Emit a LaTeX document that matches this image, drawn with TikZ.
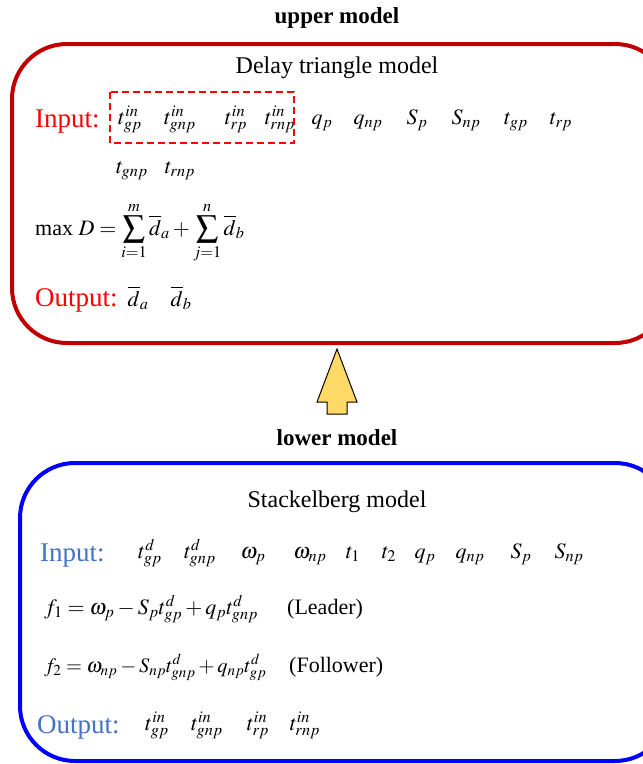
\documentclass[tikz,border=0pt]{standalone}
\usepackage{mathptmx}
\usepackage{fontspec}
\setmainfont{Liberation Serif}
\begin{document}
\begin{tikzpicture}[x=1pt,y=-1pt,
  box/.style={line width=4pt,rounded corners=55pt},
  lbl/.style={inner sep=0pt,anchor=base west},
  inlbl/.style={lbl,font=\fontsize{27}{30}\selectfont},
  eqn/.style={lbl,font=\fontsize{22}{26}\selectfont},
  mth/.style={inner sep=0pt,anchor=base,font=\fontsize{22}{26}\selectfont},
  ttl/.style={inner sep=0pt,font=\fontsize{24}{28}\selectfont},
  hdr/.style={inner sep=0pt,font=\bfseries\fontsize{23}{26}\selectfont}]
\useasboundingbox (0,0) rectangle (643,764);
\clip (0,0) rectangle (643,764);
\definecolor{upred}{HTML}{C00000}
\definecolor{lowblue}{HTML}{0000FF}
\definecolor{inblue}{HTML}{4472C4}
\definecolor{arrowfill}{HTML}{FFD966}
% upper
\node[hdr] (uh) at (337,18) {upper model};
\draw[box,upred] (12,44) rectangle (670,343);
\node[ttl] (ut) at (337,68) {Delay triangle model};
\node[inlbl,text=red] (uin) at (35,127) {Input:};
\node[mth] (a1) at (130,124) {$t_{gp}^{in}$};
\node[mth] (a2) at (180,124) {$t_{gnp}^{in}$};
\node[mth] (a3) at (236,124) {$t_{rp}^{in}$};
\node[mth] (a4) at (280,124) {$t_{rnp}^{in}$};
\node[mth] (a5) at (322,124) {$q_{p}$};
\node[mth] (a6) at (368,124) {$q_{np}$};
\node[mth] (a7) at (417,124) {$S_{p}$};
\node[mth] (a8) at (466,124) {$S_{np}$};
\node[mth] (a9) at (516,124) {$t_{gp}$};
\node[mth] (a10) at (561,124) {$t_{rp}$};
\draw[red,line width=1.5pt,dash pattern=on 7pt off 4pt] (110,92) rectangle (294,143);
\node[mth] (b1) at (132,173) {$t_{gnp}$};
\node[mth] (b2) at (180,173) {$t_{rnp}$};
\node[eqn] (eq) at (35,235) {max $D=\displaystyle\sum_{i=1}^{m}\overline{d}_a+\sum_{j=1}^{n}\overline{d}_b$};
\node[inlbl,text=red] (uout) at (35,306) {Output:};
\node[mth] (c1) at (138,306) {$\overline{d}_{a}$};
\node[mth] (c2) at (181,306) {$\overline{d}_{b}$};
% arrow
\draw[fill=arrowfill,line width=1pt,line join=miter] (327,414) -- (327,402) -- (317,402) -- (337,349) -- (357,402) -- (347,402) -- (347,414) -- cycle;
\coordinate (arrbot) at (337,414);
% lower
\node[hdr] (lh) at (337,438) {lower model};
\draw[box,lowblue] (20,463) rectangle (670,761);
\node[ttl] (lt) at (337,502) {Stackelberg model};
\node[inlbl,text=inblue] (lin) at (40,561) {Input:};
\node[mth] (d1) at (150,558) {$t_{gp}^{d}$};
\node[mth] (d2) at (200,558) {$t_{gnp}^{d}$};
\node[mth] (d3) at (253,558) {$\omega_{p}$};
\node[mth] (d4) at (310,558) {$\omega_{np}$};
\node[mth] (d5) at (353,558) {$t_{1}$};
\node[mth] (d6) at (389,558) {$t_{2}$};
\node[mth] (d7) at (425,558) {$q_{p}$};
\node[mth] (d8) at (470,558) {$q_{np}$};
\node[mth] (d9) at (521,558) {$S_{p}$};
\node[mth] (d10) at (569,558) {$S_{np}$};
\node[eqn] (f1) at (44,614) {$f_1=\omega_p-S_pt_{gp}^{d}+q_pt_{gnp}^{d}$};
\node[eqn] (l1) at (287,614) {(Leader)};
\node[eqn,font=\fontsize{20.5}{24}\selectfont] (f2) at (44,672) {$f_2=\omega_{np}-S_{np}t_{gnp}^{d}+q_{np}t_{gp}^{d}$};
\node[eqn] (l2) at (289,672) {(Follower)};
\node[inlbl,text=inblue] (lout) at (37,733) {Output:};
\node[mth] (e1) at (157,730) {$t_{gp}^{in}$};
\node[mth] (e2) at (207,730) {$t_{gnp}^{in}$};
\node[mth] (e3) at (258,730) {$t_{rp}^{in}$};
\node[mth] (e4) at (305,730) {$t_{rnp}^{in}$};
\end{tikzpicture}
\end{document}
